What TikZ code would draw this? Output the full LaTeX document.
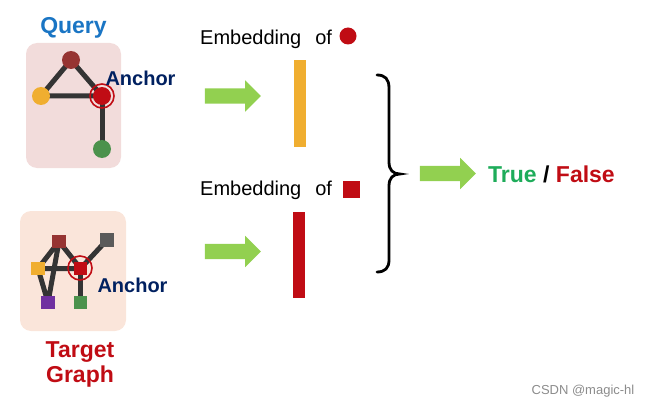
\documentclass[tikz,border=0pt]{standalone}
\usepackage{fontspec}
\setmainfont{Liberation Sans}
\usetikzlibrary{shapes.arrows}
\pgfdeclarelayer{boxes}
\pgfdeclarelayer{edges}
\pgfsetlayers{boxes,edges,main}

\definecolor{qblue}{RGB}{26,117,196}
\definecolor{navy}{RGB}{0,32,96}
\definecolor{darkred}{RGB}{192,12,20}
\definecolor{brick}{RGB}{150,52,50}
\definecolor{amber}{RGB}{240,174,48}
\definecolor{leaf}{RGB}{76,146,76}
\definecolor{slate}{RGB}{90,90,90}
\definecolor{violet}{RGB}{112,48,160}
\definecolor{edgegray}{RGB}{52,52,52}
\definecolor{pinkbox}{RGB}{242,220,219}
\definecolor{peachbox}{RGB}{250,229,218}
\definecolor{arrowgreen}{RGB}{146,208,80}
\definecolor{truegreen}{RGB}{30,172,90}

\tikzset{
  vtx/.style={circle, inner sep=0pt, minimum size=18pt},
  sq/.style={rectangle, inner sep=0pt, minimum size=13.5pt},
  ring/.style={circle, draw=darkred, line width=1.6pt, inner sep=0pt, minimum size=24pt},
  gedge/.style={edgegray, line width=5pt, line join=round},
  panel/.style={rounded corners=11pt, inner sep=0pt},
  fat/.style={single arrow, fill=arrowgreen, inner xsep=0pt, inner ysep=7.5pt,
              text height=0pt, text depth=0pt, text width=0pt, minimum height=56pt,
              single arrow head extend=8pt, single arrow tip angle=90},
  lbl/.style={inner sep=0pt, font=\fontsize{20}{24}\selectfont},
  bold/.style={inner sep=0pt, font=\fontsize{23}{26}\selectfont\bfseries},
  anch/.style={inner sep=0pt, font=\fontsize{20}{24}\selectfont\bfseries, text=navy},
  bar/.style={inner sep=0pt, minimum width=12pt}
}

\begin{document}
\begin{tikzpicture}[x=1pt,y=-1pt]
\useasboundingbox (0,0) rectangle (650,409);

% panels behind the graphs
\begin{pgfonlayer}{boxes}
  \node[panel, fill=pinkbox, minimum width=95pt, minimum height=125pt] (qpanel) at (73.5,105.5) {};
  \node[panel, fill=peachbox, minimum width=106pt, minimum height=120pt] (tpanel) at (73,271) {};
\end{pgfonlayer}

% query graph
\node[vtx, fill=brick] (qa) at (71,60) {};
\node[vtx, fill=amber] (qb) at (41,96) {};
\node[vtx, fill=darkred] (qc) at (102,96) {};
\node[vtx, fill=leaf] (qd) at (102,149) {};
\node[ring] (qring) at (102,96) {};
\begin{pgfonlayer}{edges}
  \draw[gedge] (qa.center) -- (qb.center) -- (qc.center) -- cycle;
  \draw[gedge] (qc.center) -- (qd.center);
\end{pgfonlayer}

\node[bold, text=qblue] (qtitle) at (73.5,28) {Query};
\node[anch] (qanchor) at (140.5,78) {Anchor};

% target graph
\node[sq, fill=brick] (ta) at (59,241.5) {};
\node[sq, fill=amber] (tb) at (38,268.5) {};
\node[sq, fill=darkred] (tc) at (80.5,268.5) {};
\node[sq, fill=slate] (td) at (107,240) {};
\node[sq, fill=violet] (te) at (48,302.5) {};
\node[sq, fill=leaf] (tf) at (80.5,302.5) {};
\node[ring] (tring) at (80,268) {};
\begin{pgfonlayer}{edges}
  \draw[gedge] (ta.center) -- (tb.center) -- (te.center) -- cycle;
  \draw[gedge] (ta.center) -- (tc.center);
  \draw[gedge] (tb.center) -- (tc.center) -- (td.center);
  \draw[gedge] (tc.center) -- (tf.center);
\end{pgfonlayer}

\node[anch] (tanchor) at (132.5,285) {Anchor};
\node[bold, text=darkred, align=center] (ttitle) at (80,364) {Target\\[-1pt]Graph};

% embeddings
\node[fat] (arrq) at (229,96) {};
\node[fat] (arrt) at (229,251.5) {};
\node[lbl, anchor=base west] (embq) at (200,45) {Embedding\hspace{0.7em}of};
\node[circle, fill=darkred, inner sep=0pt, minimum size=17pt] (dotq) at (348,36) {};
\node[bar, fill=amber, minimum height=87pt] (barq) at (300,103.5) {};

\node[lbl, anchor=base west] (embt) at (200,195) {Embedding\hspace{0.7em}of};
\node[rectangle, fill=darkred, inner sep=0pt, minimum size=17pt] (dott) at (351,189) {};
\node[bar, fill=darkred, minimum height=86pt] (bart) at (299,255) {};

% brace joining both embeddings
\coordinate (btop) at (377,75);
\coordinate (btip) at (400,174);
\coordinate (bbot) at (377,272);
\draw[line width=2.8pt, line cap=round] (btop)
  .. controls (385,75) and (389,79) .. (389,88) -- (389,162)
  .. controls (389,170) and (393,174) .. (btip)
  .. controls (393,174) and (389,178) .. (389,186) -- (389,260)
  .. controls (389,268) and (385,272) .. (bbot);

\node[fat] (arrout) at (444,173.5) {};
\node[bold, anchor=west] (verdict) at (488,174)
  {\textcolor{truegreen}{True} / \textcolor{darkred}{False}};

\node[inner sep=0pt, font=\fontsize{13}{15}\selectfont, text=black!45] (mark) at (583,391) {CSDN @magic-hl};
\end{tikzpicture}
\end{document}
